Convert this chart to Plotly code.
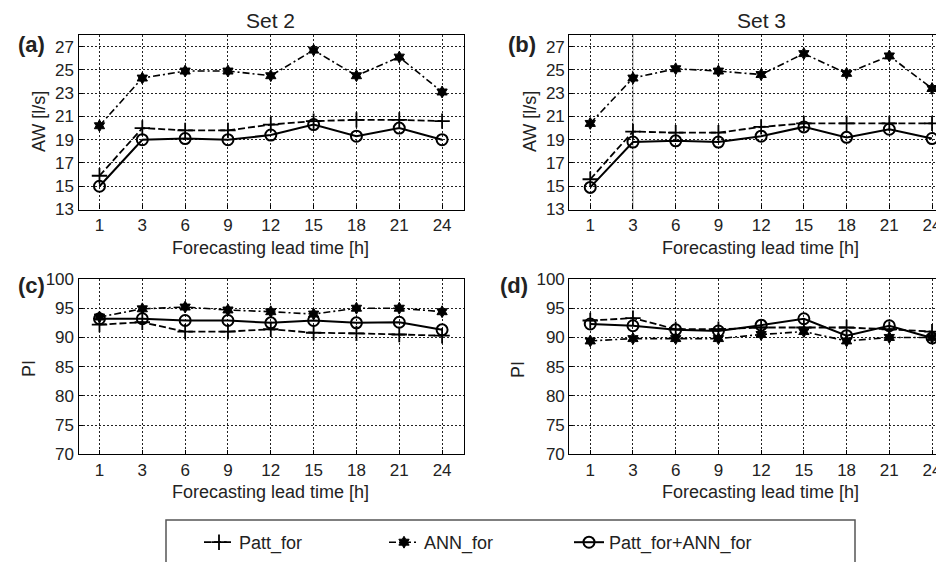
import plotly.graph_objects as go

lead_times = ["1", "3", "6", "9", "12", "15", "18", "21", "24"]

# Set 2 - AW [l/s]
aw_set2_patt = [15.9, 20.0, 19.8, 19.8, 20.3, 20.6, 20.7, 20.7, 20.6]
aw_set2_ann = [20.2, 24.3, 24.9, 24.9, 24.5, 26.7, 24.5, 26.1, 23.1]
aw_set2_comb = [15.0, 19.0, 19.1, 19.0, 19.4, 20.3, 19.3, 20.0, 19.0]

# Set 3 - AW [l/s]
aw_set3_patt = [15.6, 19.7, 19.6, 19.6, 20.1, 20.4, 20.4, 20.4, 20.4]
aw_set3_ann = [20.4, 24.3, 25.1, 24.9, 24.6, 26.4, 24.7, 26.2, 23.4]
aw_set3_comb = [14.9, 18.8, 18.9, 18.8, 19.3, 20.1, 19.2, 19.9, 19.1]

# Set 2 - PI
pi_set2_patt = [92.2, 92.6, 91.0, 91.0, 91.4, 90.8, 90.7, 90.5, 90.3]
pi_set2_ann = [93.5, 94.9, 95.2, 94.7, 94.4, 94.0, 95.0, 95.0, 94.4]
pi_set2_comb = [93.2, 93.2, 92.9, 92.9, 92.5, 92.9, 92.5, 92.6, 91.3]

# Set 3 - PI
pi_set3_patt = [92.9, 93.3, 91.4, 91.4, 91.7, 91.7, 91.7, 91.4, 91.0]
pi_set3_ann = [89.4, 89.8, 89.8, 89.8, 90.5, 91.0, 89.4, 90.0, 90.0]
pi_set3_comb = [92.3, 92.0, 91.3, 91.1, 92.1, 93.2, 90.3, 92.0, 89.9]

aw_ticks = [13, 15, 17, 19, 21, 23, 25, 27]
pi_ticks = [70, 75, 80, 85, 90, 95, 100]

OFF = 8  # page body margin offset
W, H = 944 - OFF, 562 - OFF
FONT = "Liberation Sans, Arial, sans-serif"

def px(x):
    return (x - OFF) / W

def py(y):
    return 1 - (y - OFF) / H

styles = {
    "Patt_for": dict(line=dict(color="black", width=1.8, dash="7px,3px"),
                     marker=dict(symbol="cross-thin", size=11, color="black",
                                 line=dict(color="black", width=1.8))),
    "ANN_for": dict(line=dict(color="black", width=1.6, dash="7px,3px,2px,3px"),
                    marker=dict(symbol="hexagram", size=9, color="black",
                                line=dict(color="black", width=1))),
    "Patt_for+ANN_for": dict(line=dict(color="black", width=2),
                             marker=dict(symbol="circle-open", size=11, color="black",
                                         line=dict(color="black", width=2))),
}

panels = [
    ("x", "y", aw_set2_patt, aw_set2_ann, aw_set2_comb),
    ("x2", "y2", aw_set3_patt, aw_set3_ann, aw_set3_comb),
    ("x3", "y3", pi_set2_patt, pi_set2_ann, pi_set2_comb),
    ("x4", "y4", pi_set3_patt, pi_set3_ann, pi_set3_comb),
]

fig = go.Figure()
for i, (xa, ya, patt, ann, comb) in enumerate(panels):
    for name, vals in [("Patt_for", patt), ("ANN_for", ann), ("Patt_for+ANN_for", comb)]:
        fig.add_trace(go.Scatter(
            x=lead_times, y=vals, xaxis=xa, yaxis=ya, name=name,
            mode="lines+markers", showlegend=(i == 0),
            line=styles[name]["line"], marker=styles[name]["marker"],
        ))

# Axis domains (reference screen pixels)
left_x = [px(78.5), px(463.5)]
right_x = [px(569.3), 1.0]
top_y = [py(209.5), py(35)]
bot_y = [py(454.3), py(279)]

common_x = dict(
    type="category", categoryorder="array", categoryarray=lead_times,
    showgrid=True, gridcolor="#222", griddash="2px,2px", gridwidth=1,
    showline=True, linecolor="black", linewidth=1.2, mirror=True,
    ticks="inside", ticklen=4, tickcolor="black",
    tickfont=dict(family=FONT, size=17, color="#222"), zeroline=False,
)
common_y = dict(
    showgrid=True, gridcolor="#222", griddash="2px,2px", gridwidth=1,
    showline=True, linecolor="black", linewidth=1.2,
    ticks="inside", ticklen=4, tickcolor="black",
    tickfont=dict(family=FONT, size=17, color="#222"), zeroline=False,
)

fig.update_layout(
    width=W, height=H,
    margin=dict(l=0, r=0, t=0, b=0, autoexpand=False),
    paper_bgcolor="white", plot_bgcolor="white",
    font=dict(family=FONT, size=17, color="#222"),
    xaxis=dict(common_x, domain=left_x, range=[-0.49, 8.5], anchor="y"),
    yaxis=dict(common_y, domain=top_y, range=[13, 28], tickvals=aw_ticks, mirror=True, anchor="x"),
    xaxis2=dict(common_x, domain=right_x, range=[-0.49, 8.28], anchor="y2", mirror=True),
    yaxis2=dict(common_y, domain=top_y, range=[13, 28], tickvals=aw_ticks, mirror=False, anchor="x2"),
    xaxis3=dict(common_x, domain=left_x, range=[-0.49, 8.5], anchor="y3"),
    yaxis3=dict(common_y, domain=bot_y, range=[70, 100], tickvals=pi_ticks, mirror=True, anchor="x3"),
    xaxis4=dict(common_x, domain=right_x, range=[-0.49, 8.28], anchor="y4", mirror=True),
    yaxis4=dict(common_y, domain=bot_y, range=[70, 100], tickvals=pi_ticks, mirror=False, anchor="x4"),
    legend=dict(
        orientation="h", x=px(199), y=py(524), xanchor="left", yanchor="top",
        bgcolor="rgba(0,0,0,0)", borderwidth=0,
        font=dict(family=FONT, size=18, color="#222"),
        entrywidth=140, itemwidth=30, traceorder="normal",
    ),
    showlegend=True,
)

# Legend frame (extends beyond bottom edge as in the reference)
fig.add_shape(type="rect", xref="paper", yref="paper",
              x0=px(166), x1=px(855), y0=py(580), y1=py(520),
              line=dict(color="#555", width=1.5), fillcolor="rgba(0,0,0,0)", layer="below")

# Grey vertical artefact line in panel (b) at first tick
fig.add_shape(type="line", xref="x2", yref="y2 domain", x0="1", x1="1", y0=0, y1=1,
              line=dict(color="#bbb", width=1.5), layer="below")

# (text, x, y, size, bold, angle, yanchor)
annots = [
    ("Set 2", 270.5, 8, 21, False, 0, "top"),
    ("Set 3", 761, 8, 21, False, 0, "top"),
    ("(a)", 31, 44, 22, True, 0, "middle"),
    ("(b)", 522, 44, 22, True, 0, "middle"),
    ("(c)", 31, 285, 22, True, 0, "middle"),
    ("(d)", 514, 285, 22, True, 0, "middle"),
    ("Forecasting lead time [h]", 270.5, 248, 18, False, 0, "middle"),
    ("Forecasting lead time [h]", 760, 248, 18, False, 0, "middle"),
    ("Forecasting lead time [h]", 270.5, 492, 18, False, 0, "middle"),
    ("Forecasting lead time [h]", 760, 492, 18, False, 0, "middle"),
    ("AW [l/s]", 39, 122, 18, False, -90, "middle"),
    ("AW [l/s]", 530, 122, 18, False, -90, "middle"),
    ("PI", 29, 369, 18, False, -90, "middle"),
    ("PI", 518, 369, 18, False, -90, "middle"),
]
for text, x, y, size, bold, ang, yanc in annots:
    fig.add_annotation(
        text=f"<b>{text}</b>" if bold else text,
        x=px(x), y=py(y), xref="paper", yref="paper",
        xanchor="center", yanchor=yanc, showarrow=False, textangle=ang,
        borderpad=0,
        font=dict(family=FONT, size=size, color="#222"),
    )

fig.write_html("out.html")
